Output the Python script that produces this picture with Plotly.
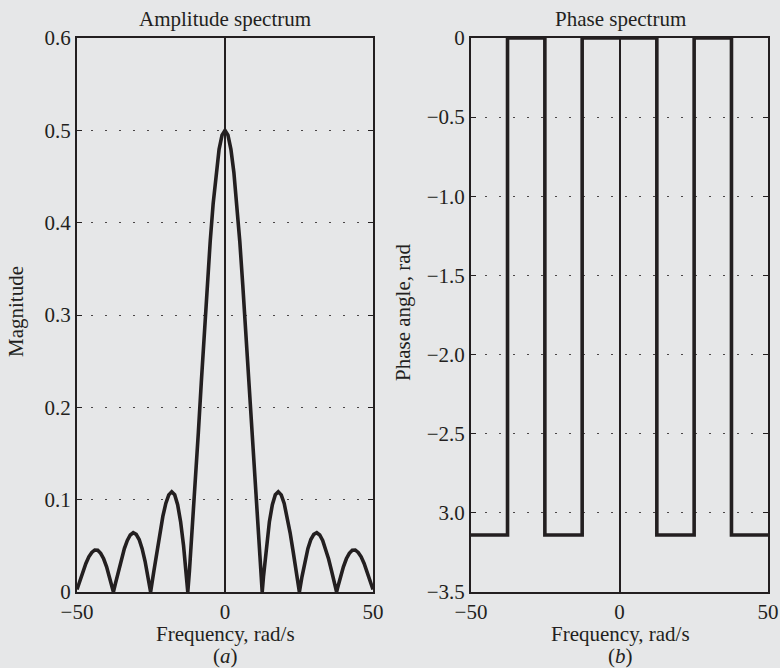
import plotly.graph_objects as go

# ---------------- data ----------------
freq = [-50, -49, -48, -47, -46, -45, -44, -43, -42, -41, -40, -39, -38, -37.70,
        -37, -36, -35, -34, -33, -32, -31, -30, -29, -28, -27, -26, -25.13,
        -25, -24, -23, -22, -21, -20, -19, -18, -17, -16, -15, -14, -13, -12.57,
        -12, -11, -10, -9, -8, -7, -6, -5, -4, -3, -2, -1, 0,
        1, 2, 3, 4, 5, 6, 7, 8, 9, 10, 11, 12, 12.57,
        13, 14, 15, 16, 17, 18, 19, 20, 21, 22, 23, 24, 25, 25.13,
        26, 27, 28, 29, 30, 31, 32, 33, 34, 35, 36, 37, 37.70,
        38, 39, 40, 41, 42, 43, 44, 45, 46, 47, 48, 49, 50]
magnitude = [0.0027, 0.0128, 0.0224, 0.0309, 0.0381, 0.0428, 0.0455, 0.0452, 0.0419, 0.0360, 0.0272, 0.0164, 0.0040, 0.0,
             0.0094, 0.0229, 0.0357, 0.0470, 0.0559, 0.0618, 0.0642, 0.0625, 0.0568, 0.0469, 0.0333, 0.0165, 0.0,
             0.0027, 0.0233, 0.0443, 0.0641, 0.0818, 0.0959, 0.1052, 0.1086, 0.1053, 0.0946, 0.0762, 0.0501, 0.0166, 0.0,
             0.0235, 0.0694, 0.1197, 0.1729, 0.2273, 0.2811, 0.3325, 0.3796, 0.4207, 0.4544, 0.4794, 0.4948, 0.5,
             0.4948, 0.4794, 0.4544, 0.4207, 0.3796, 0.3325, 0.2811, 0.2273, 0.1729, 0.1197, 0.0694, 0.0235, 0.0,
             0.0166, 0.0501, 0.0762, 0.0946, 0.1053, 0.1086, 0.1052, 0.0959, 0.0818, 0.0641, 0.0443, 0.0233, 0.0027, 0.0,
             0.0165, 0.0333, 0.0469, 0.0568, 0.0625, 0.0642, 0.0618, 0.0559, 0.0470, 0.0357, 0.0229, 0.0094, 0.0,
             0.0040, 0.0164, 0.0272, 0.0360, 0.0419, 0.0452, 0.0455, 0.0428, 0.0381, 0.0309, 0.0224, 0.0128, 0.0027]

phase_freq = [-50, -37.7, -37.7, -25.13, -25.13, -12.57, -12.57, 12.57, 12.57, 25.13, 25.13, 37.7, 37.7, 50]
phase_angle = [-3.14, -3.14, 0, 0, -3.14, -3.14, 0, 0, -3.14, -3.14, 0, 0, -3.14, -3.14]

x_ticks = [-50, 0, 50]
x_tick_labels = ["\u221250", "0", "50"]
mag_ticks = [0, 0.1, 0.2, 0.3, 0.4, 0.5, 0.6]
mag_tick_labels = ["0", "0.1", "0.2", "0.3", "0.4", "0.5", "0.6"]
phase_ticks = [-3.5, -3.0, -2.5, -2.0, -1.5, -1.0, -0.5, 0]
phase_tick_labels = ["\u22123.5", "3.0", "\u22122.5", "\u22122.0", "\u22121.5", "\u22121.0", "\u22120.5", "0"]

# ---------------- style ----------------
INK = "#231f20"
BG = "#e6e7e8"
FONT = "Liberation Serif, Times New Roman, serif"
FS = 21

fig = go.Figure()
fig.add_trace(go.Scatter(x=freq, y=magnitude, mode="lines",
                         line=dict(color=INK, width=3.6), xaxis="x", yaxis="y",
                         showlegend=False, hoverinfo="skip"))
fig.add_trace(go.Scatter(x=phase_freq, y=phase_angle, mode="lines",
                         line=dict(color=INK, width=3.6), xaxis="x2", yaxis="y2",
                         showlegend=False, hoverinfo="skip"))

axis_common = dict(showline=True, mirror="allticks", linecolor=INK, linewidth=2,
                   ticks="inside", ticklen=5, tickcolor=INK, tickwidth=1, automargin=False,
                   tickfont=dict(family=FONT, size=FS, color=INK))
xcommon = dict(axis_common, range=[-50, 50], tickvals=x_ticks, ticktext=x_tick_labels,
               showgrid=False, zeroline=True, zerolinecolor=INK, zerolinewidth=1.5)
grid = dict(showgrid=True, gridcolor="#4a4647", gridwidth=1, griddash="1.5px,12.5px", zeroline=False)

L, R, T, B = 77, 12, 38, 76
W, H = 780, 668
pw = W - L - R
ph = H - T - B
d1 = [0, (373 - L) / pw]
d2 = [(471 - L) / pw, 1]

fig.update_layout(
    width=W, height=H, margin=dict(l=L, r=R, t=T, b=B, autoexpand=False),
    paper_bgcolor=BG, plot_bgcolor=BG,
    font=dict(family=FONT, size=FS, color=INK),
    xaxis=dict(xcommon, domain=d1, anchor="y"),
    yaxis=dict(axis_common, **grid, range=[0, 0.6], tickvals=mag_ticks, ticktext=mag_tick_labels,
               anchor="x"),
    xaxis2=dict(xcommon, domain=d2, anchor="y2"),
    yaxis2=dict(axis_common, **grid, range=[-3.5, 0], tickvals=phase_ticks, ticktext=phase_tick_labels,
                anchor="x2"),
)

def px_x(p):
    return (p - L) / pw

def px_y(p):
    return (H - B - p) / ph

ann = [
    ("Amplitude spectrum", 225, 19, 0),
    ("Phase spectrum", 620, 19, 0),
    ("Frequency, rad/s", 225, 634, 0),
    ("(<i>a</i>)", 225, 656, 0),
    ("Frequency, rad/s", 620, 634, 0),
    ("(<i>b</i>)", 620, 656, 0),
    ("Magnitude", 16, 312, -90),
    ("Phase angle, rad", 403, 312, -90),
]
for text, x, y, ang in ann:
    fig.add_annotation(text=text, x=px_x(x), y=px_y(y), xref="paper", yref="paper",
                       xanchor="center", yanchor="middle", showarrow=False, textangle=ang,
                       font=dict(family=FONT, size=FS, color=INK))

fig.write_html("out.html", config={"displayModeBar": False},
               post_script="document.body.style.margin='0';")
